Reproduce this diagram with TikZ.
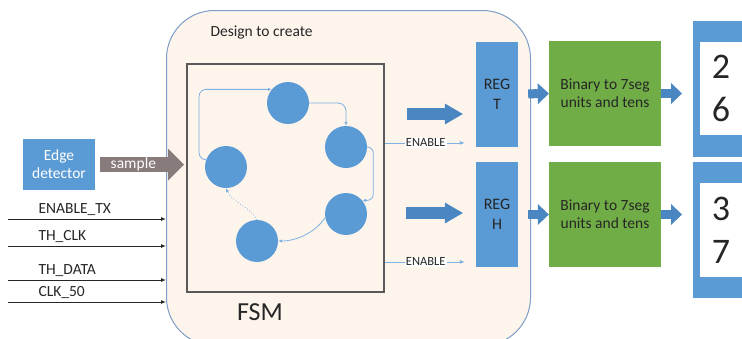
\documentclass[tikz,border=0pt]{standalone}
\usepackage{fontspec}
\setmainfont{Carlito}
\usetikzlibrary{positioning,arrows.meta}
\definecolor{stateblue}{HTML}{5B9BD5}
\definecolor{transblue}{HTML}{7DB0E3}
\definecolor{fatblue}{HTML}{4A86C1}
\definecolor{bingreen}{HTML}{70AD47}
\definecolor{designfill}{HTML}{FDF4EC}
\definecolor{designline}{HTML}{7E9FC9}
\definecolor{samplegray}{HTML}{877B7B}
\definecolor{fsmgray}{HTML}{595959}
\definecolor{inktext}{HTML}{262626}

\begin{document}
\begin{tikzpicture}[x=1pt,y=-1pt,
  every node/.style={text=inktext,font=\fontsize{15.5}{18}\selectfont},
  state/.style={circle,fill=stateblue,minimum size=42pt,inner sep=0pt},
  trans/.style={draw=transblue,line width=0.8pt,-{Latex[length=4pt,width=3.5pt]}},
  sig/.style={draw=black!85,line width=0.9pt,-{Latex[length=5pt,width=4pt]}},
  enable/.style={draw=transblue,line width=0.8pt,-{Latex[length=5pt,width=4pt]},shorten >=11pt},
  enlbl/.style={fill=white,inner sep=1pt,font=\fontsize{12.5}{14}\selectfont},
  fat/.style={draw=fatblue,line width=12pt,-{Triangle[width=21pt,length=18pt,line width=0pt]},shorten >=13pt},
  midarrow/.style={draw=fatblue,line width=9pt,-{Triangle[width=21pt,length=11pt,line width=0pt]}},
  regbox/.style={fill=stateblue,minimum width=42pt,minimum height=105pt,align=center,font=\fontsize{16}{20}\selectfont},
  binbox/.style={fill=bingreen,minimum width=112pt,minimum height=105pt,align=center},
  dispframe/.style={fill=stateblue,anchor=north west,minimum width=70pt,minimum height=136pt},
  dispwin/.style={fill=white,anchor=north west,minimum width=60pt},
  digits/.style={align=center,font=\fontsize{36}{43}\selectfont}]

\clip (0,0) rectangle (742,338);
\fill[white] (0,0) rectangle (742,338);

\node (design) [draw=designline,fill=designfill,line width=1pt,rounded corners=48pt,
  anchor=north west,minimum width=364pt,minimum height=335pt] at (166,10) {};
\node (designlbl) [anchor=base west] at (207,36) {Design to create};

\node (fsm) [draw=fsmgray,line width=1.8pt,anchor=north west,
  minimum width=197pt,minimum height=228pt] at (186,63) {};
\node (fsmlbl) [font=\fontsize{26}{30}\selectfont] at (260,312) {FSM};

\node[state] (sT) at (288,103) {};
\node[state] (sRU) at (346,147) {};
\node[state] (sL) at (226,167) {};
\node[state] (sRD) at (346,214) {};
\node[state] (sB) at (257,241) {};

\draw[trans,rounded corners=7pt] (sL.160) -- ++(-7,0) |- (sT.140);
\draw[trans,rounded corners=8pt] (sT.east) -| (sRU.north);
\draw[trans,rounded corners=6pt] (sRU.east) -- ++(6,0) |- (sRD.40);
\draw[trans] (sRD.190) .. controls +(-10,15) and +(18,0) .. (sB.east);
\draw[trans,dotted] (sB.north) .. controls +(-8,-14) and +(6,14) .. (sL.south);

\node (edge) [fill=stateblue,text=white,align=center,minimum width=72pt,minimum height=51pt]
  at (59,164.5) {Edge\\detector};
\coordinate (sampletip) at (184,164.5);
\draw[draw=samplegray,line width=15pt,-{Triangle[width=32pt,length=16pt,line width=0pt]},shorten <=5pt]
  (edge.east) -- (sampletip) node[pos=0.43,text=white] {sample};

\foreach \name/\y/\lbl in {entx/219/ENABLE\_TX,thclk/246/TH\_CLK,thdata/280/TH\_DATA,clk/302/CLK\_50}
{
  \coordinate (\name-in) at (8,\y);
  \draw[sig] (\name-in) -- (\name-in -| design.west);
  \node (\name-lbl) [anchor=base west] at (35,\y-6) {\lbl};
}

\node[regbox] (regT) at (497,94) {REG\\T};
\node[regbox] (regH) at (497,214.5) {REG\\H};

\coordinate (fatT) at (407,114);
\coordinate (fatH) at (406,213);
\draw[fat] (fatT) -- (fatT -| regT.west);
\draw[fat] (fatH) -- (fatH -| regH.west);

\draw[enable] ([yshift=35pt]fsm.east) -- ([yshift=35pt]fsm.east -| regT.west) node[enlbl,pos=0.45] {ENABLE};
\draw[enable] ([yshift=-84pt]fsm.east) -- ([yshift=-84pt]fsm.east -| regH.west) node[enlbl,pos=0.45] {ENABLE};

\node[binbox] (binT) at (605,93.5) {Binary to 7seg\\units and tens};
\node[binbox] (binH) at (605,214.5) {Binary to 7seg\\units and tens};

\draw[midarrow,shorten <=10pt] (regT.east) -- (binT.west);
\draw[midarrow,shorten <=10pt] (regH.east) -- (binH.west);

\node[dispframe] (dispT) at (693,21) {};
\node[dispwin,minimum height=93pt] (winT) at (700,42) {};
\node[digits] (digT) at (721,88.5) {2\\6};
\node[dispframe] (dispH) at (693,162) {};
\node[dispwin,minimum height=94pt] (winH) at (700,183) {};
\node[digits] (digH) at (721,230.5) {3\\7};

\draw[midarrow,shorten >=11pt] (binT.east) -- (binT.east -| dispT.west);
\draw[midarrow,shorten >=11pt] (binH.east) -- (binH.east -| dispH.west);
\end{tikzpicture}
\end{document}
